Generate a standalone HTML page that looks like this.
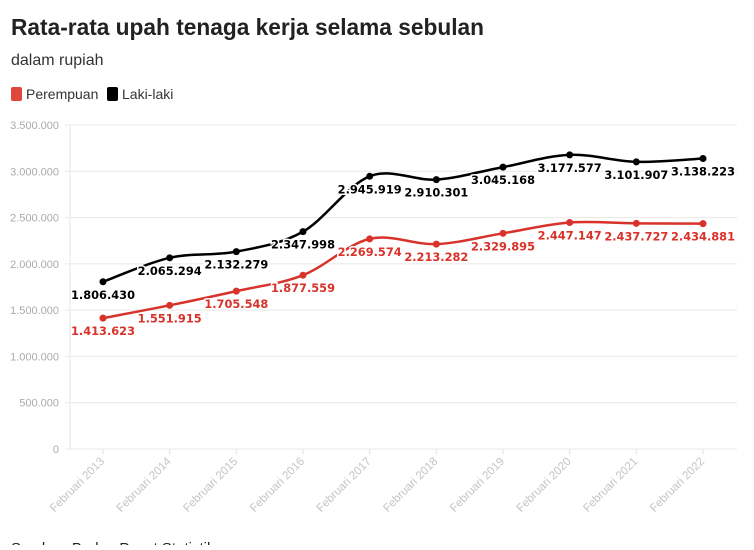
<!DOCTYPE html>
<html><head><meta charset="utf-8"><style>
body{margin:0;background:#fff;width:754px;height:545px;overflow:hidden;font-family:"Liberation Sans",sans-serif;}
</style></head><body>
<svg id="c" width="754" height="545">
<text x="11" y="35" font-size="23" font-weight="bold" fill="#222" textLength="473" lengthAdjust="spacingAndGlyphs">Rata-rata upah tenaga kerja selama sebulan</text>
<text x="11" y="65" font-size="16" fill="#333">dalam rupiah</text>
<g>
<rect x="11" y="87" width="11" height="14" rx="2" fill="#e0463c"/>
<text x="26" y="99" font-size="14" fill="#333">Perempuan</text>
<rect x="107" y="87" width="11" height="14" rx="2" fill="#000"/>
<text x="122" y="99" font-size="14" fill="#333">Laki-laki</text>
</g>
<g id="axes"></g><g id="marks"></g>
<text x="11" y="553" font-size="15" fill="#222">Sumber: Badan Pusat Statistik</text>
</svg>
<script>
const categories=["Februari 2013","Februari 2014","Februari 2015","Februari 2016","Februari 2017","Februari 2018","Februari 2019","Februari 2020","Februari 2021","Februari 2022"];
const perempuan=[1413623,1551915,1705548,1877559,2269574,2213282,2329895,2447147,2437727,2434881];
const lakilaki=[1806430,2065294,2132279,2347998,2945919,2910301,3045168,3177577,3101907,3138223];
const yTicks=[0,500000,1000000,1500000,2000000,2500000,3000000,3500000];
const NS="http://www.w3.org/2000/svg";
const x0=103,x1=703,y0=449,y1=125,yMax=3500000;
const xs=i=>x0+(x1-x0)*i/(categories.length-1);
const ys=v=>y0-(y0-y1)*v/yMax;
const fmt=v=>v.toLocaleString('en-US').replace(/,/g,'.');
const axes=document.getElementById('axes'),marks=document.getElementById('marks');
function mk(t,a,p){const e=document.createElementNS(NS,t);for(const k in a)e.setAttribute(k,a[k]);p.appendChild(e);return e;}
mk('line',{x1:70,y1:125,x2:70,y2:449,stroke:'#e6e6e6'},axes);
yTicks.forEach(v=>{
 const g=mk('line',{x1:65,x2:737,y1:ys(v),y2:ys(v),stroke:'#e8e8e8'},axes);
 
 
 const t=mk('text',{x:59,y:ys(v)+4,'text-anchor':'end','font-size':11,fill:'#aaa'},axes);
 t.textContent=fmt(v);
 
 
});
categories.forEach((c,i)=>{
 mk('line',{x1:xs(i),x2:xs(i),y1:449,y2:454,stroke:'#e0e0e0'},axes);
 const t=mk('text',{x:xs(i)+2,y:462,'text-anchor':'end','font-size':11.5,fill:'#c4c4c4',transform:`rotate(-45 ${xs(i)+2} 462)`},axes);
 t.textContent=c;
 
 
});
function path(vals){
 const p=vals.map((v,i)=>[xs(i),ys(v)]);let d=`M${p[0][0]},${p[0][1]}`;
 for(let i=0;i<p.length-1;i++){const a=p[i-1]||p[i],b=p[i],c=p[i+1],e=p[i+2]||c;
  d+=`C${b[0]+(c[0]-a[0])/6},${b[1]+(c[1]-a[1])/6} ${c[0]-(e[0]-b[0])/6},${c[1]-(e[1]-b[1])/6} ${c[0]},${c[1]}`;}
 return d;}
function series(vals,color,name){
 const l=mk('path',{d:path(vals),fill:'none',stroke:color,'stroke-width':2.5},marks);
 
 
 vals.forEach((v,i)=>{
  const c=mk('circle',{cx:xs(i),cy:ys(v),r:3.5,fill:color},marks);
  
  
  const t=mk('text',{x:xs(i),y:ys(v)+17,'text-anchor':'middle','font-size':11.5,'font-weight':'bold',fill:color,'font-family':'DejaVu Sans, sans-serif',stroke:'#fff','stroke-width':3,'paint-order':'stroke',textLength:64,lengthAdjust:'spacingAndGlyphs'},marks);
  t.textContent=fmt(v);
  
  
 });}
series(lakilaki,'#000','laki-laki');
series(perempuan,'#d8322a','perempuan');
</script>
</body></html>
